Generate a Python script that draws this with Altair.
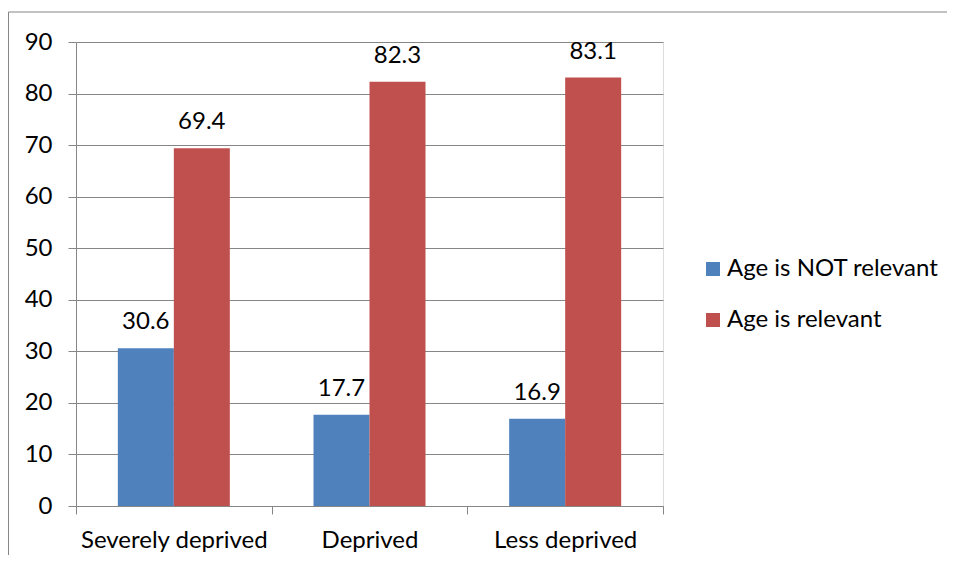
import altair as alt
import pandas as pd

categories = ["Severely deprived", "Deprived", "Less deprived"]
series = ["Age is NOT relevant", "Age is relevant"]
not_relevant = [30.6, 17.7, 16.9]
relevant = [69.4, 82.3, 83.1]
y_ticks = [0, 10, 20, 30, 40, 50, 60, 70, 80, 90]
colors = ["#4F81BD", "#C0504D"]

rows = []
for i, c in enumerate(categories):
    rows.append({"category": c, "series": series[0], "value": not_relevant[i]})
    rows.append({"category": c, "series": series[1], "value": relevant[i]})
df = pd.DataFrame(rows)

FONT = "Lato"
GRAY = "#868686"
FS = 24

x = alt.X("category:N", sort=categories, title=None,
          scale=alt.Scale(paddingInner=0, paddingOuter=0),
          axis=alt.Axis(labelAngle=0, tickBand="extent", domainColor=GRAY, tickColor=GRAY,
                        tickSize=8, labelFontSize=FS, labelPadding=14, labelColor="black",
                        labelFont=FONT, grid=False, domainWidth=1, tickWidth=1, labelLimit=0))
xo = alt.XOffset("series:N", sort=series, scale=alt.Scale(paddingInner=0, paddingOuter=0.747))
y = alt.Y("value:Q", title=None, scale=alt.Scale(domain=[0, 90], nice=False),
          axis=alt.Axis(values=y_ticks, domainColor=GRAY, tickColor=GRAY, gridColor=GRAY,
                        tickSize=8, labelFontSize=FS, labelFont=FONT, labelColor="black",
                        labelPadding=16, grid=True, domainWidth=1, tickWidth=1, gridWidth=1))

color = alt.Color("series:N", sort=series,
                  scale=alt.Scale(domain=series, range=colors),
                  legend=alt.Legend(orient="none", legendX=625, legendY=215, title=None,
                                    symbolType="square", symbolSize=196, labelFontSize=FS,
                                    labelFont=FONT, labelColor="black", labelOffset=2,
                                    labelLimit=0, rowPadding=27, symbolStrokeWidth=0, padding=0))

base = alt.Chart(df)
bars = base.mark_bar().encode(x=x, xOffset=xo, y=y, color=color)
labels = base.mark_text(baseline="alphabetic", dy=-19, fontSize=FS, font=FONT, color="black").encode(
    x=x, xOffset=xo, y=y, text=alt.Text("value:Q", format=".1f"))

border = alt.Chart(pd.DataFrame({"a": [0]})).mark_rect(
    fill="transparent", stroke=GRAY, strokeWidth=1).encode(
    x=alt.value(-67.5), x2=alt.value(1000), y=alt.value(-30), y2=alt.value(700))

chart = alt.layer(border, bars, labels).properties(
    width=587, height=464,
    autosize=alt.AutoSizeParams(type="none"),
    padding={"left": 68, "top": 34, "right": 284, "bottom": 49},
).configure_view(stroke=None).configure(background="white")

chart.save("out.html", embed_options={"renderer": "svg", "actions": False})
